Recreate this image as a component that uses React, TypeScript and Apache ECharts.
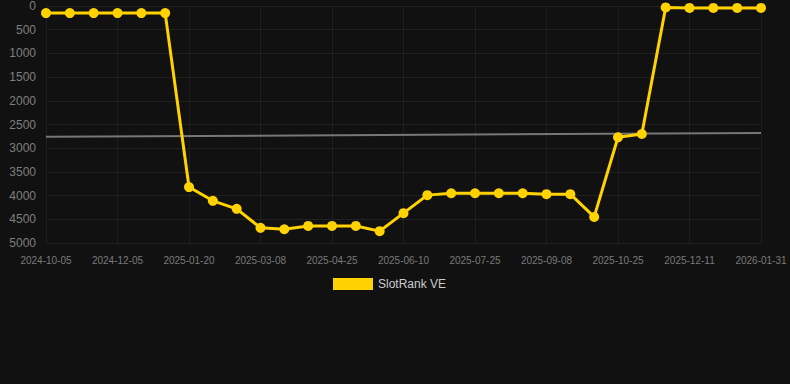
import React, { useEffect, useRef } from "react";
import * as echarts from "echarts";

const categories = [
  "2024-10-05", "2024-10-25", "2024-11-15", "2024-12-05", "2024-12-20", "2025-01-05",
  "2025-01-20", "2025-02-05", "2025-02-20", "2025-03-08", "2025-03-24", "2025-04-09",
  "2025-04-25", "2025-05-10", "2025-05-26", "2025-06-10", "2025-06-25", "2025-07-10",
  "2025-07-25", "2025-08-09", "2025-08-24", "2025-09-08", "2025-09-24", "2025-10-09",
  "2025-10-25", "2025-11-10", "2025-11-26", "2025-12-11", "2025-12-28", "2026-01-14",
  "2026-01-31",
];

const rankValues = [
  150, 150, 150, 150, 150, 150,
  3820, 4110, 4280, 4680, 4710, 4640,
  4640, 4640, 4750, 4370, 3990, 3950,
  3950, 3950, 3950, 3970, 3970, 4450,
  2770, 2700, 30, 40, 40, 40,
  40,
];

const trendStart = 2760;
const trendEnd = 2680;
const trendValues = categories.map((_, i) =>
  i === 0 ? trendStart : i === categories.length - 1 ? trendEnd : null
);

export default function App() {
  const ref = useRef<HTMLDivElement>(null);
  useEffect(() => {
    if (!ref.current) return;
    const chart = echarts.init(ref.current, null, { renderer: "svg" });
    chart.setOption({
      animation: false,
      backgroundColor: "#111111",
      grid: { left: 46, right: 29, top: 6, bottom: 141 },
      legend: {
        data: ["SlotRank VE"],
        top: 273,
        left: 328,
        itemWidth: 40,
        itemHeight: 12,
        icon: "rect",
        textStyle: { color: "#cccccc", fontSize: 12, fontFamily: "Liberation Sans, Arial, sans-serif" },
      },
      xAxis: {
        type: "category",
        data: categories,
        boundaryGap: false,
        axisLine: { show: false },
        axisTick: { show: false },
        axisLabel: {
          interval: 2,
          color: "#7a7a7a",
          fontSize: 10,
          margin: 12,
          fontFamily: "Liberation Sans, Arial, sans-serif",
        },
        splitLine: { show: true, interval: 2, lineStyle: { color: "#1e1e1e", width: 1 } },
      },
      yAxis: {
        type: "value",
        inverse: true,
        min: 0,
        max: 5000,
        interval: 500,
        axisLine: { show: false },
        axisTick: { show: false },
        axisLabel: {
          color: "#7f7f7f",
          fontSize: 12,
          margin: 10,
          formatter: (v: number) => String(v),
          fontFamily: "Liberation Sans, Arial, sans-serif",
        },
        splitLine: { lineStyle: { color: "#202020", width: 1 } },
      },
      series: [
        {
          name: "SlotRank VE",
          type: "line",
          data: rankValues,
          color: "#ffd200",
          lineStyle: { color: "#ffd200", width: 3 },
          itemStyle: { color: "#ffd200" },
          symbol: "circle",
          symbolSize: 10,
          z: 3,
        },
        {
          name: "Trend",
          type: "line",
          data: trendValues,
          connectNulls: true,
          symbol: "none",
          lineStyle: { color: "#777777", width: 2 },
          itemStyle: { color: "#777777" },
          z: 2,
        },
      ],
    });
    return () => chart.dispose();
  }, []);
  return <div ref={ref} style={{ width: 790, height: 384, position: "absolute", left: 0, top: 0 }} />;
}
